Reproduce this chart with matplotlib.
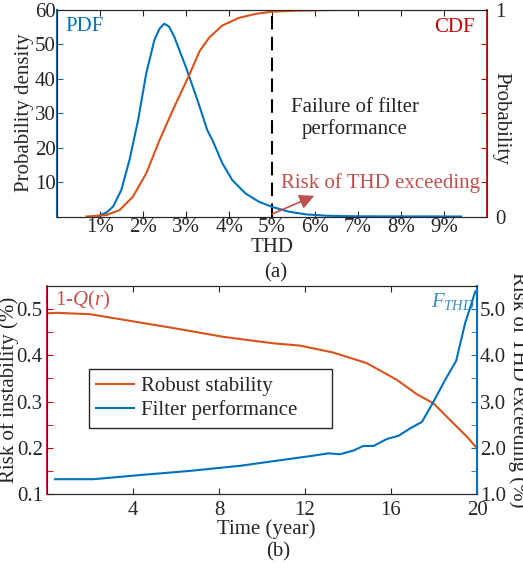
import numpy as np
import matplotlib
matplotlib.use("Agg")
import matplotlib.pyplot as plt
from matplotlib.ticker import FixedLocator, MultipleLocator

plt.rcParams["font.family"] = ["Liberation Serif", "DejaVu Serif"]
plt.rcParams["mathtext.fontset"] = "custom"
plt.rcParams["mathtext.rm"] = "Liberation Serif"
plt.rcParams["mathtext.it"] = "Liberation Serif:italic"
plt.rcParams["font.size"] = 15

BLUE = "#0072BD"
ORANGE = "#D95319"
RED = "#C00000"
DARK = "#262626"

# ---- panel (a): THD distribution ----
thd_pdf = [0.0095, 0.010, 0.0115, 0.0130, 0.0149, 0.0168, 0.0188, 0.0207, 0.0226,
           0.0238, 0.0249, 0.0260, 0.0272, 0.0299, 0.0326, 0.0349, 0.0361, 0.0384,
           0.0407, 0.0438, 0.0469, 0.0500, 0.0539, 0.0580, 0.0630, 0.0700, 0.0940]
pdf = [0.0, 0.4, 1.2, 2.9, 7.7, 16.4, 28.0, 41.6, 51.3,
       54.6, 56.0, 55.2, 52.3, 43.5, 33.9, 25.1, 22.2, 15.5,
       10.6, 6.7, 4.3, 2.8, 1.4, 0.6, 0.2, 0.05, 0.0]

thd_cdf = [0.0068, 0.0114, 0.0145, 0.0176, 0.0207, 0.0238, 0.0269, 0.0307, 0.0331,
           0.0353, 0.0384, 0.0423, 0.0461, 0.0500, 0.0560, 0.0650, 0.0940]
cdf = [0.0, 0.007, 0.031, 0.096, 0.209, 0.370, 0.516, 0.685, 0.80,
       0.865, 0.925, 0.962, 0.981, 0.992, 0.997, 1.0, 1.0]

thd_ticks = [0.01, 0.02, 0.03, 0.04, 0.05, 0.06, 0.07, 0.08, 0.09]
thd_labels = ["1%", "2%", "3%", "4%", "5%", "6%", "7%", "8%", "9%"]
thd_limit = 0.05

# ---- panel (b): risk over time ----
years_rs = [0, 0.45, 2.0, 3.55, 5.88, 8.2, 10.53, 11.77, 13.32, 14.88, 16.27,
            17.2, 17.98, 18.75, 19.53, 20.0]
robust = [0.491, 0.492, 0.489, 0.477, 0.459, 0.440, 0.426, 0.421, 0.406, 0.383,
          0.347, 0.316, 0.296, 0.260, 0.224, 0.199]

years_fp = [0.37, 2.15, 4.33, 6.65, 8.98, 11.77, 12.39, 13.09, 13.63, 14.25, 14.72,
            15.19, 15.81, 16.35, 16.89, 17.44, 17.98, 18.52, 19.03, 19.45, 19.92]
filt = [1.32, 1.32, 1.41, 1.50, 1.61, 1.79, 1.83, 1.88, 1.86, 1.94, 2.04,
        2.04, 2.19, 2.26, 2.42, 2.56, 3.00, 3.47, 3.88, 4.70, 5.38]

fig = plt.figure(figsize=(5.23, 5.68), dpi=100)


def style_axis(ax):
  ax.tick_params(direction="in", which="both", colors=DARK, length=4)
  for s in ax.spines.values():
    s.set_color(DARK)


# ---------- (a) ----------
ax1 = fig.add_axes([57.3 / 523, 1 - 216.5 / 568, 429.7 / 523, 206.5 / 568])
ax1r = ax1.twinx()
style_axis(ax1)
style_axis(ax1r)

ax1.plot(thd_pdf, pdf, color=BLUE, lw=1.5, zorder=3)
ax1r.plot(thd_cdf, cdf, color=ORANGE, lw=1.5)
ax1.axvline(thd_limit, color="black", lw=1.5, ls=(0, (6.5, 3.5)))

ax1.set_xlim(0, 0.1)
ax1.set_ylim(0, 60)
ax1r.set_ylim(0, 1)
ax1.set_xticks(thd_ticks)
ax1.set_xticklabels(thd_labels)
ax1.set_yticks([10, 20, 30, 40, 50, 60])
ax1r.yaxis.set_major_locator(FixedLocator(np.linspace(0, 1, 7)))
ax1r.set_yticklabels(["0", "", "", "", "", "", "1"])
ax1.tick_params(top=True)
ax1.tick_params(axis="x", pad=1)

ax1.spines["left"].set_color(BLUE)
ax1.spines["left"].set_linewidth(1.5)
ax1r.spines["right"].set_color(RED)
ax1r.spines["right"].set_linewidth(1.2)
ax1r.tick_params(axis="y", colors=RED, labelcolor=DARK, pad=6)
ax1.tick_params(axis="y", colors=BLUE, labelcolor=DARK, pad=1)

fig.text(25 / 523, 1 - 113 / 568, "Probability density", rotation=90,
         ha="center", va="center", color=DARK)
fig.text(501 / 523, 1 - 118 / 568, "Probability", rotation=270,
         ha="center", va="center", color=DARK)
fig.text(0.5 * (57.3 + 487) / 523, 1 - 247 / 568, "THD", ha="center", va="center", color=DARK)

ax1.text(0.018, 0.965, "PDF", color=BLUE, transform=ax1.transAxes, va="top", ha="left")
ax1r.text(0.972, 0.96, "CDF", color=RED, transform=ax1.transAxes, va="top", ha="right")
ax1.text(0.0693, 0.475, "Failure of filter\nperformance", color=DARK, ha="center", va="center",
         transform=ax1.get_xaxis_transform(), linespacing=1.15)
ax1.text(0.0751, 0.162, "Risk of THD exceeding", color="#C0504D", ha="center", va="center",
         transform=ax1.get_xaxis_transform())
ax1.annotate("", xy=(0.0598, 0.10), xytext=(0.0500, 0.012),
             xycoords=ax1.get_xaxis_transform(),
             arrowprops=dict(arrowstyle="-|>", color="#C0504D", lw=1.2, mutation_scale=22,
                             shrinkA=0, shrinkB=0))
fig.text(276 / 523, 1 - 273 / 568, "(a)", ha="center", va="center", color=DARK)

# ---------- (b) ----------
ax2 = fig.add_axes([47 / 523, 1 - 494 / 568, 430 / 523, 208 / 568])
ax2r = ax2.twinx()
style_axis(ax2)
style_axis(ax2r)

l1, = ax2.plot(years_rs, robust, color=ORANGE, lw=1.5, label="Robust stability")
l2, = ax2r.plot(years_fp, filt, color=BLUE, lw=1.5, label="Filter performance")

ax2.set_xlim(0, 20)
ax2.set_ylim(0.1, 0.55)
ax2r.set_ylim(1.0, 5.5)
ax2.set_xticks([4, 8, 12, 16, 20])
ax2.set_yticks([0.1, 0.2, 0.3, 0.4, 0.5])
ax2.yaxis.set_minor_locator(MultipleLocator(0.05))
ax2r.set_yticks([1, 2, 3, 4, 5])
ax2r.set_yticklabels(["1.0", "2.0", "3.0", "4.0", "5.0"])
ax2r.yaxis.set_minor_locator(MultipleLocator(0.5))
ax2.tick_params(top=True)
ax2.tick_params(axis="x", pad=5)

ax2.spines["left"].set_color(RED)
ax2.spines["left"].set_linewidth(1.2)
ax2r.spines["right"].set_color(BLUE)
ax2r.spines["right"].set_linewidth(1.5)
ax2.tick_params(axis="y", which="both", colors=RED, labelcolor=DARK, pad=3)
ax2r.tick_params(axis="y", which="both", colors=BLUE, labelcolor=DARK, pad=2)

fig.text(9 / 523, 1 - 390 / 568, "Risk of instability (%)", rotation=90,
         ha="center", va="center", color=DARK)
fig.text(518 / 523, 1 - 390 / 568, "Risk of THD exceeding (%)", rotation=270,
         ha="center", va="center", color=DARK)
fig.text(266 / 523, 1 - 529 / 568, "Time (year)", ha="center", va="center", color=DARK)

ax2.text(0.018, 0.985, "1-$Q$($r$)", color="#C8504A", transform=ax2.transAxes, va="top", ha="left")
ax2.text(0.995, 0.975, "$F_{THD}$", color="#3A8FC0", transform=ax2.transAxes, va="top", ha="right")

leg_w = (330.7 - 87.7) / 430
leg_h = (427.7 - 375.7) / 208
leg = ax2.legend([l1, l2], ["Robust stability", "Filter performance"], loc="lower left",
                 bbox_to_anchor=(0.097, 0.319, leg_w, leg_h), mode="expand",
                 fancybox=False, framealpha=1,
                 edgecolor=DARK, borderpad=0.35, handlelength=1.8, handletextpad=0.35,
                 labelspacing=0.2, borderaxespad=0)
leg.get_frame().set_linewidth(1.0)
for t in leg.get_texts():
  t.set_color(DARK)

fig.text(278 / 523, 1 - 552 / 568, "(b)", ha="center", va="center", color=DARK)

fig.savefig("out.png", dpi=100)
